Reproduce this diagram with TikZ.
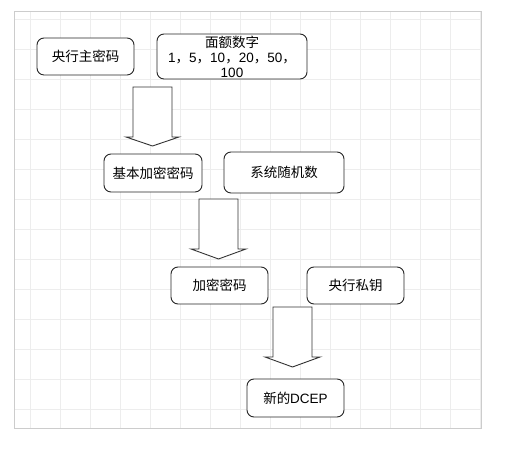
\documentclass[tikz,border=0pt]{standalone}
\usepackage{fontspec}
\setmainfont{Liberation Sans}
\newfontfamily\cjk{Noto Sans CJK SC}
\begin{document}
\begin{tikzpicture}[x=1pt,y=1pt,
  box/.style={draw=black!85, line width=0.9pt, rounded corners=7pt, fill=white,
    inner sep=0pt, font=\fontsize{13.5}{15}\selectfont, text=black, align=center},
  blockarrow/.style={draw=black!80, line width=0.9pt, fill=white, line join=miter},
  gridline/.style={draw=black!7, line width=0.6pt}]
\useasboundingbox[fill=white] (0,0) rectangle (519,449);
% canvas grid
\foreach \gx in {30,60,...,480} \draw[gridline] (\gx,21) -- (\gx,438);
\foreach \gy in {40,70,...,430} \draw[gridline] (14,\gy) -- (481,\gy);
\draw[draw=black!20, line width=0.8pt] (14,21) rectangle (481,438);
% boxes
\node[box, minimum width=97pt, minimum height=37pt] (a) at (85.5,392.5) {\cjk 央行主密码};
\node[box, minimum width=150pt, minimum height=45pt] (b) at (232,392.5)
  {{\cjk 面额数字}\\1{\cjk ，}5{\cjk ，}10{\cjk ，}20{\cjk ，}50{\cjk ，}\\100};
\node[box, minimum width=98pt, minimum height=38pt] (c) at (153,276) {\cjk 基本加密密码};
\node[box, minimum width=120pt, minimum height=41pt] (d) at (284,276.5) {\cjk 系统随机数};
\node[box, minimum width=97pt, minimum height=37pt] (e) at (219.5,163.5) {\cjk 加密密码};
\node[box, minimum width=97pt, minimum height=37pt] (f) at (355.5,163.5) {\cjk 央行私钥};
\node[box, minimum width=97pt, minimum height=38pt] (g) at (295.5,51) {{\cjk 新的}DCEP};
% block arrows
\draw[blockarrow] (133,362) -- (133,312) -- (126,312) -- (152.5,303) -- (179,312) -- (172,312) -- (172,362) -- cycle;
\draw[blockarrow] (199,250) -- (199,200) -- (191,200) -- (218.5,190) -- (246,200) -- (238,200) -- (238,250) -- cycle;
\draw[blockarrow] (273,142) -- (273,92) -- (265,92) -- (292.5,82) -- (320,92) -- (312,92) -- (312,142) -- cycle;
\end{tikzpicture}
\end{document}
